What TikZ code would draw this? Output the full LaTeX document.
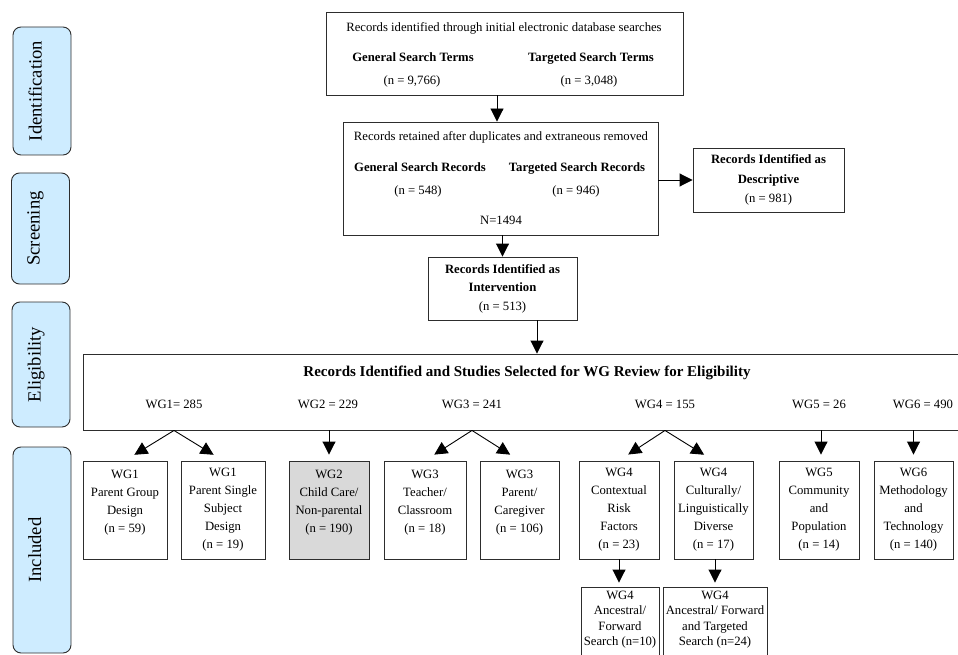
\documentclass[tikz,border=0pt]{standalone}
\usepackage{fontspec}
\setmainfont{Liberation Serif}
\usetikzlibrary{arrows.meta,calc}
\definecolor{phaseblue}{RGB}{206,236,255}
\definecolor{boxgray}{RGB}{217,217,217}
\definecolor{edgecol}{RGB}{45,45,45}
\begin{document}
\begin{tikzpicture}[x=1pt,y=-1pt,
  font=\fontsize{12.7}{15}\selectfont,
  phase/.style={draw=edgecol, fill=phaseblue, rounded corners=8pt, line width=0.9pt, inner sep=0pt},
  phasetxt/.style={inner sep=0pt, anchor=base, rotate=90, font=\fontsize{18.6}{20}\selectfont},
  box/.style={draw=edgecol, line width=0.9pt, inner sep=0pt, align=center},
  wgbox/.style={box, minimum height=98pt, font=\fontsize{12.7}{18}\selectfont},
  subbox/.style={box, minimum height=100pt},
  txt/.style={inner sep=0pt, anchor=base},
  subtxt/.style={inner sep=0pt, anchor=north, align=center, font=\fontsize{12.7}{15.3}\selectfont},
  arr/.style={-{Triangle[width=13pt,length=13pt]}, line width=0.9pt, black}]
\useasboundingbox (0,0) rectangle (958,655);
\clip (0,0) rectangle (958,655);

% phase labels
\node[phase, minimum width=58pt, minimum height=128pt] (pid) at (42,91) {};
\node[phasetxt] (tid) at (41.5,91) {Identification};
\node[phase, minimum width=58pt, minimum height=111pt] (pscr) at (40.5,228.5) {};
\node[phasetxt] (tscr) at (39.5,228.5) {Screening};
\node[phase, minimum width=58pt, minimum height=125pt] (pel) at (41,364.5) {};
\node[phasetxt] (tel) at (40.5,364.5) {Eligibility};
\node[phase, minimum width=58pt, minimum height=206pt] (pinc) at (42,550) {};
\node[phasetxt] (tinc) at (41,550) {Included};

% top box
\node[box, minimum width=357pt, minimum height=83pt] (rec) at (504.5,53.5) {};
\node[txt] (rec0) at (504,32) {Records identified through initial electronic database searches};
\node[txt] (rec1) at (413,62) {\textbf{General Search Terms}};
\node[txt] (rec2) at (591,62) {\textbf{Targeted Search Terms}};
\node[txt] (rec3) at (412,84.5) {(n = 9,766)};
\node[txt] (rec4) at (589,84.5) {(n = 3,048)};

% retained box
\node[box, minimum width=315pt, minimum height=113pt] (ret) at (500.5,178.5) {};
\node[txt] (ret0) at (501,141) {Records retained after duplicates and extraneous removed};
\node[txt] (ret1) at (420,172) {\textbf{General Search Records}};
\node[txt] (ret2) at (577,172) {\textbf{Targeted Search Records}};
\node[txt] (ret3) at (418,195) {(n = 548)};
\node[txt] (ret4) at (576,195) {(n = 946)};
\node[txt] (ret5) at (501,225) {N=1494};

% descriptive / intervention
\node[box, minimum width=151pt, minimum height=64pt, font=\fontsize{12.7}{19.5}\selectfont] (desc) at (768.5,180)
  {\textbf{Records Identified as}\\\textbf{Descriptive}\\(n = 981)};
\node[box, minimum width=149pt, minimum height=63pt, font=\fontsize{12.7}{18.5}\selectfont] (int) at (502.5,288.5)
  {\textbf{Records Identified as}\\\textbf{Intervention}\\(n = 513)};

% WG box
\node[box, minimum width=917pt, minimum height=76pt] (wg) at (541.5,392) {};
\node[txt, font=\fontsize{15}{17}\selectfont] (wgt) at (527,376) {\textbf{Records Identified and Studies Selected for WG Review for Eligibility}};
\node[txt] (l1) at (174,408) {WG1= 285};
\node[txt] (l2) at (328,408) {WG2 = 229};
\node[txt] (l3) at (472,408) {WG3 = 241};
\node[txt] (l4) at (665,408) {WG4 = 155};
\node[txt] (l5) at (819,408) {WG5 = 26};
\node[txt] (l6) at (923,408) {WG6 = 490};

% WG boxes
\node[wgbox, minimum width=84pt] (b1a) at (125,510) {WG1\\Parent Group\\Design\\(n = 59)\\\mbox{}};
\node[wgbox, minimum width=84pt] (b1b) at (223,510) {WG1\\Parent Single\\Subject\\Design\\(n = 19)};
\node[wgbox, minimum width=80pt, fill=boxgray] (b2) at (329,510) {WG2\\Child Care/\\Non-parental\\(n = 190)\\\mbox{}};
\node[wgbox, minimum width=82pt] (b3a) at (425,510) {WG3\\Teacher/\\Classroom\\(n = 18)\\\mbox{}};
\node[wgbox, minimum width=79pt] (b3b) at (519.5,510) {WG3\\Parent/\\Caregiver\\(n = 106)\\\mbox{}};
\node[wgbox, minimum width=80pt] (b4a) at (619,510) {WG4\\Contextual\\Risk\\Factors\\(n = 23)};
\node[wgbox, minimum width=79pt] (b4b) at (713.5,510) {WG4\\Culturally/\\Linguistically\\Diverse\\(n = 17)};
\node[wgbox, minimum width=80pt] (b5) at (819,510) {WG5\\Community\\and\\Population\\(n = 14)};
\node[wgbox, minimum width=79pt] (b6) at (913.5,510) {WG6\\Methodology\\and\\Technology\\(n = 140)};

% bottom boxes
\node[subbox, minimum width=78pt] (b4c) at (620,637) {};
\node[subtxt] (t4c) at (620,591) {WG4\\Ancestral/\\Forward\\Search (n=10)};
\node[subbox, minimum width=104pt] (b4d) at (715,637) {};
\node[subtxt] (t4d) at (715,591) {WG4\\Ancestral/ Forward\\and Targeted\\Search (n=24)};

% connectors
\draw[arr] ([xshift=-3.5pt]ret.north |- rec.south) -- ([xshift=-3.5pt]ret.north);
\draw[arr] (ret.south -| int.north) -- (int.north);
\draw[arr] (desc.west -| ret.east) -- (desc.west);
\draw[arr] ([xshift=34.5pt]int.south) -- ([xshift=34.5pt]int.south |- wg.north);

\draw[arr, shorten >=11pt] (l1 |- wg.south) -- (b1a.north);
\draw[arr, shorten >=11pt] (l1 |- wg.south) -- (b1b.north);
\draw[arr, shorten >=6pt] (b2.north |- wg.south) -- (b2.north);
\draw[arr, shorten >=11pt] (l3 |- wg.south) -- (b3a.north);
\draw[arr, shorten >=11pt] (l3 |- wg.south) -- (b3b.north);
\draw[arr, shorten >=11pt] (l4 |- wg.south) -- (b4a.north);
\draw[arr, shorten >=11pt] (l4 |- wg.south) -- (b4b.north);
\draw[arr, shorten >=6pt] ([xshift=2pt]b5.north |- wg.south) -- ([xshift=2pt]b5.north);
\draw[arr, shorten >=6pt] (b6.north |- wg.south) -- (b6.north);

\draw[arr, shorten >=4pt] (b4a.south) -- (b4a.south |- b4c.north);
\draw[arr, shorten >=4pt] (b4d.north |- b4b.south) -- (b4d.north);
\end{tikzpicture}
\end{document}
